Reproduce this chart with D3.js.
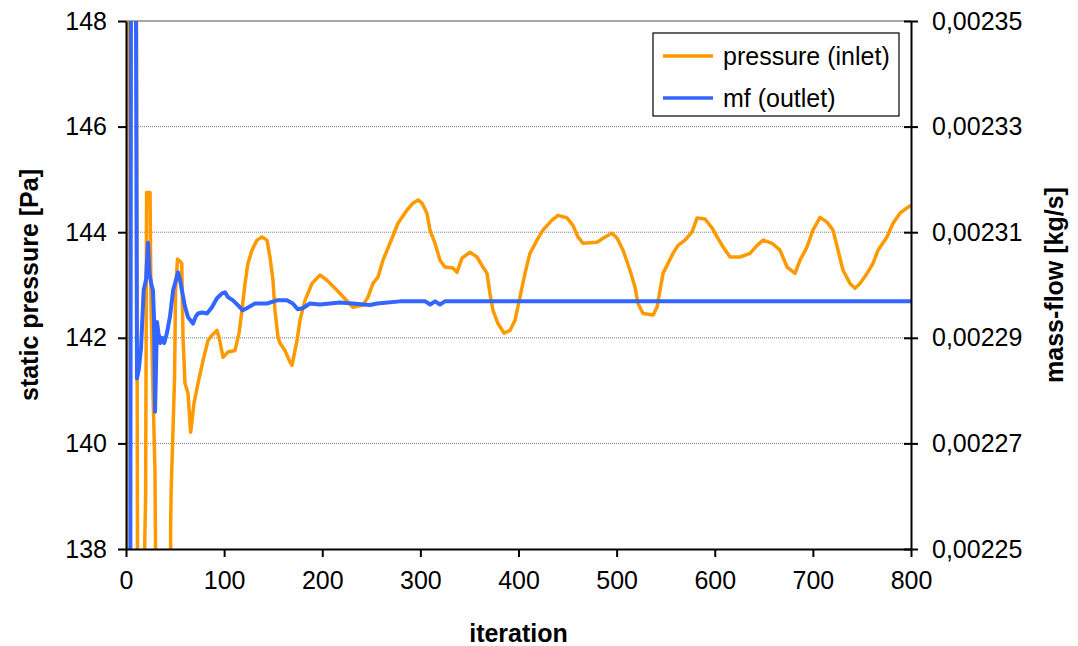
<!DOCTYPE html>
<html>
<head>
<meta charset="utf-8">
<script src="https://cdn.jsdelivr.net/npm/d3@7"></script>
<style>
  html, body { margin: 0; padding: 0; background: #fff; }
  svg { display: block; font-family: "Liberation Sans", Arial, sans-serif; }
</style>
</head>
<body>
<svg id="chart" width="1078" height="646"></svg>
<script>
// Axis ticks
const iterationTicks = [0, 100, 200, 300, 400, 500, 600, 700, 800];
const pressureTicks = [138, 140, 142, 144, 146, 148];
const massFlowTicks = [0.00225, 0.00227, 0.00229, 0.00231, 0.00233, 0.00235];

// Static pressure at the inlet [Pa] per iteration (values beyond the axis range are clipped)
const pressureIter = [0, 1.5, 10.5, 12.5, 18, 20, 21, 24.5, 25.5, 27.5, 29.5, 30.5, 45, 45.5, 46, 49.5, 50.5, 52.5, 55, 56.8,
  58.1, 60.1, 63.2, 65.9, 69.3, 73.4, 78.5, 83.6, 87.6, 92.7, 94.8, 98.9, 103.9, 111.1, 115.2, 118.2, 121.3, 124.3, 128.4, 133.5,
  138.6, 143.7, 146.7, 149.8, 151.8, 154.9, 156.9, 162, 167.1, 169.2, 174.3, 177.3, 182.4, 189.6, 197.7, 204.8, 215, 218.1, 231.3, 241.5,
  246.6, 251.7, 256.8, 261.9, 269, 277.2, 286.4, 292.5, 297.6, 301.7, 306.7, 309.8, 314.9, 320, 325.1, 333.2, 337.3, 342.4, 350.6, 357.7,
  363.8, 367.9, 370.9, 374, 379.1, 385.2, 391.3, 396.4, 401.5, 406.6, 411.7, 418.8, 424.9, 434.1, 440.3, 449.4, 455.5, 460.6, 465.7, 480,
  488.2, 495.3, 500.4, 506.5, 513.6, 518.7, 521.8, 526.9, 537.1, 541.2, 544.2, 547.3, 552.4, 557.5, 562.6, 569.7, 576.8, 582, 590.1, 597.3,
  602.4, 608.5, 615.6, 625.8, 636, 643.2, 649.3, 658.4, 666.5, 673.7, 681.8, 686.9, 694, 700.1, 707.3, 714.4, 720.5, 725.6, 730.7, 737.8,
  742.9, 748, 755.2, 761.3, 766.4, 775.5, 781.7, 788.8, 795.9, 800];
const pressureValue = [132, 150, 150, 130, 137, 139.0, 144.75, 144.75, 142.6, 141.0, 139.5, 137, 130, 138.5, 139.1, 141.25, 142.9, 143.49, 143.45, 143.41,
  142.01, 141.14, 140.95, 140.21, 140.76, 141.14, 141.57, 141.95, 142.05, 142.14, 142.01, 141.63, 141.73, 141.76, 142.09, 142.52, 143.03, 143.41, 143.66, 143.85,
  143.91, 143.85, 143.53, 143.09, 142.52, 142.01, 141.90, 141.76, 141.54, 141.48, 141.95, 142.33, 142.71, 143.03, 143.19, 143.09, 142.90, 142.84, 142.58, 142.62,
  142.77, 143.03, 143.15, 143.47, 143.79, 144.17, 144.42, 144.55, 144.61, 144.55, 144.36, 144.04, 143.79, 143.47, 143.34, 143.32, 143.24, 143.51, 143.62, 143.53,
  143.34, 143.22, 142.84, 142.52, 142.27, 142.09, 142.14, 142.33, 142.77, 143.22, 143.60, 143.85, 144.04, 144.23, 144.32, 144.27, 144.13, 143.91, 143.79, 143.81,
  143.91, 143.98, 143.89, 143.66, 143.28, 142.96, 142.65, 142.46, 142.43, 142.58, 142.90, 143.22, 143.41, 143.60, 143.75, 143.85, 144.00, 144.27, 144.25, 144.08,
  143.91, 143.72, 143.53, 143.53, 143.60, 143.75, 143.85, 143.79, 143.66, 143.34, 143.22, 143.47, 143.72, 144.04, 144.28, 144.19, 144.04, 143.66, 143.28, 143.03,
  142.94, 143.03, 143.22, 143.41, 143.66, 143.91, 144.17, 144.36, 144.46, 144.51];

// Mass flow at the outlet [kg/s] per iteration
const massFlowIter = [4, 5.5, 9, 11.2, 13, 15.3, 18, 20.4, 22.4, 24, 26, 27.5, 28.5, 29.6, 31.6, 33, 35, 37, 39, 41.8,
  44.8, 48, 51, 53, 55, 57, 60, 63.2, 68.3, 71, 73.4, 77.5, 82.5, 87.6, 92.7, 97.8, 100.9, 104, 109, 114,
  119, 123, 131.5, 143.7, 153.9, 164, 170, 175, 180, 187.5, 197.7, 208, 218, 231, 248.7, 256, 279, 305, 310, 315,
  320, 325, 800];
const massFlowValue = [0.00217, 0.00243, 0.00243, 0.0022823, 0.002284, 0.002288, 0.002299, 0.002301, 0.002308, 0.002302, 0.002300, 0.002299, 0.002294, 0.002276, 0.002293, 0.002291, 0.002289, 0.002290, 0.002289, 0.002291,
  0.002294, 0.002299, 0.002301, 0.0023024, 0.002301, 0.002299, 0.002296, 0.0022939, 0.0022927, 0.002294, 0.0022946, 0.0022948, 0.0022946, 0.0022958, 0.0022975, 0.0022984, 0.0022986, 0.0022977, 0.0022971, 0.0022962,
  0.0022952, 0.0022956, 0.0022965, 0.0022965, 0.0022971, 0.0022971, 0.0022965, 0.0022954, 0.0022956, 0.0022965, 0.0022963, 0.0022965, 0.0022967, 0.0022965, 0.0022962, 0.0022965, 0.0022969, 0.0022969, 0.0022963, 0.0022969,
  0.0022963, 0.0022969, 0.0022969];

const seriesNames = ["pressure (inlet)", "mf (outlet)"];
const seriesColors = ["#FF9900", "#3366FF"];

const svg = d3.select("#chart");
const plot = { left: 126, right: 911, top: 21, bottom: 549 };
const FONT = 25;

const x = d3.scaleLinear().domain([0, 800]).range([plot.left, plot.right]);
const yP = d3.scaleLinear().domain([138, 148]).range([plot.bottom, plot.top]);
const yM = d3.scaleLinear().domain([0.00225, 0.00235]).range([plot.bottom, plot.top]);

// clip region for the data lines
svg.append("defs").append("clipPath").attr("id", "plotClip")
  .append("rect")
  .attr("x", plot.left).attr("y", plot.top)
  .attr("width", plot.right - plot.left).attr("height", plot.bottom - plot.top);

// horizontal gridlines
svg.append("g").selectAll("line")
  .data(pressureTicks.filter(d => d !== 138 && d !== 148))
  .join("line")
  .attr("x1", plot.left).attr("x2", plot.right)
  .attr("y1", d => yP(d)).attr("y2", d => yP(d))
  .attr("stroke", "#7a7a7a").attr("stroke-width", 1)
  .attr("stroke-dasharray", "1,1");
svg.append("line")
  .attr("x1", plot.left).attr("x2", plot.right)
  .attr("y1", yP(148)).attr("y2", yP(148))
  .attr("stroke", "#8a8a8a").attr("stroke-width", 1.5);

// data lines
const pressureData = pressureIter.map((d, i) => [d, pressureValue[i]]);
const massFlowData = massFlowIter.map((d, i) => [d, massFlowValue[i]]);
const lines = svg.append("g").attr("clip-path", "url(#plotClip)");
lines.append("path")
  .datum(pressureData)
  .attr("fill", "none").attr("stroke", seriesColors[0]).attr("stroke-width", 3.5)
  .attr("stroke-linejoin", "round")
  .attr("d", d3.line().x(d => x(d[0])).y(d => yP(d[1])));
lines.append("path")
  .datum(massFlowData)
  .attr("fill", "none").attr("stroke", seriesColors[1]).attr("stroke-width", 4)
  .attr("stroke-linejoin", "round")
  .attr("d", d3.line().x(d => x(d[0])).y(d => yM(d[1])));

// axes
function styleAxis(g) {
  g.selectAll("path.domain").attr("stroke", "#000").attr("stroke-width", 2);
  g.selectAll(".tick line").attr("stroke", "#000").attr("stroke-width", 2);
  g.selectAll(".tick text").attr("fill", "#000")
    .style("font-size", FONT + "px").style("font-family", "'Liberation Sans', Arial, sans-serif");
}

const xAxis = svg.append("g")
  .attr("transform", `translate(0,${plot.bottom})`)
  .call(d3.axisBottom(x).tickValues(iterationTicks).tickSize(8).tickSizeOuter(0).tickPadding(14).tickFormat(d3.format("d")));
styleAxis(xAxis);

const yAxisL = svg.append("g")
  .attr("transform", `translate(${plot.left},0)`)
  .call(d3.axisLeft(yP).tickValues(pressureTicks).tickSize(8).tickSizeOuter(0).tickPadding(11).tickFormat(d3.format("d")));
styleAxis(yAxisL);

const commaFmt = d => d.toFixed(5).replace(".", ",");
const yAxisR = svg.append("g")
  .attr("transform", `translate(${plot.right},0)`)
  .call(d3.axisRight(yM).tickValues(massFlowTicks).tickSize(7).tickSizeOuter(0).tickPadding(14).tickFormat(commaFmt));
styleAxis(yAxisR);
// inner half of the right-hand tick marks
const yAxisRIn = svg.append("g")
  .attr("transform", `translate(${plot.right},0)`)
  .call(d3.axisLeft(yM).tickValues(massFlowTicks).tickSize(7).tickSizeOuter(0).tickFormat(""));
yAxisRIn.select("path.domain").remove();
yAxisRIn.selectAll(".tick line").attr("stroke", "#000").attr("stroke-width", 2);

// axis titles
svg.append("text")
  .attr("x", (plot.left + plot.right) / 2).attr("y", 642)
  .attr("text-anchor", "middle").attr("font-weight", "bold").attr("font-size", FONT)
  .text("iteration");
svg.append("text")
  .attr("transform", `translate(38,${(plot.top + plot.bottom) / 2}) rotate(-90)`)
  .attr("text-anchor", "middle").attr("font-weight", "bold").attr("font-size", FONT)
  .text("static pressure [Pa]");
svg.append("text")
  .attr("transform", `translate(1063,${(plot.top + plot.bottom) / 2}) rotate(-90)`)
  .attr("text-anchor", "middle").attr("font-weight", "bold").attr("font-size", FONT)
  .text("mass-flow [kg/s]");

// legend
const legend = svg.append("g");
legend.append("rect")
  .attr("x", 653).attr("y", 33).attr("width", 246).attr("height", 83)
  .attr("fill", "#fff").attr("stroke", "#000").attr("stroke-width", 1.2);
const items = legend.selectAll("g.item").data(seriesNames).join("g")
  .attr("transform", (d, i) => `translate(0,${56 + i * 42})`);
items.append("line")
  .attr("x1", 663).attr("x2", 713).attr("y1", 0).attr("y2", 0)
  .attr("stroke", (d, i) => seriesColors[i]).attr("stroke-width", 3.5);
items.append("text")
  .attr("x", 723).attr("y", 9).attr("font-size", FONT)
  .text(d => d);
</script>
</body>
</html>
